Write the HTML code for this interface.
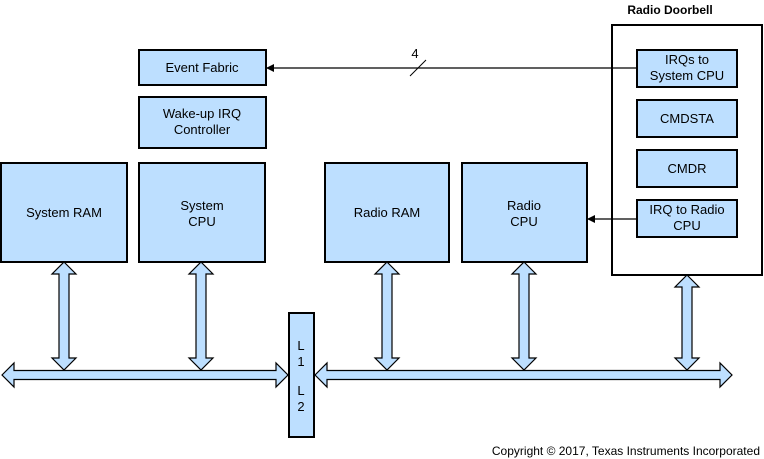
<!DOCTYPE html>
<html><head><style>
html,body{margin:0;padding:0;background:#fff;}
svg{display:block;font-family:"Liberation Sans",Arial,sans-serif;}
</style></head><body>
<svg width="764" height="459" viewBox="0 0 764 459" xmlns="http://www.w3.org/2000/svg">
<defs>
<marker id="ah" markerWidth="8" markerHeight="8" refX="7" refY="4" orient="auto" markerUnits="userSpaceOnUse">
<path d="M0,0 L8,4 L0,8 z" fill="#000"/></marker>
</defs>
<g fill="#bddfff" stroke="#000" stroke-width="2">
<rect x="1" y="163" width="126" height="99"/>
<rect x="139" y="163" width="126" height="99"/>
<rect x="325" y="163" width="124" height="99"/>
<rect x="462" y="163" width="125" height="99"/>
<rect x="139" y="50" width="127" height="35"/>
<rect x="139" y="97" width="127" height="51"/>
<rect x="289" y="313" width="25" height="124"/>
</g>
<rect x="612" y="25" width="150" height="250" fill="#fff" stroke="#000" stroke-width="2"/>
<g fill="#bddfff" stroke="#000" stroke-width="2">
<rect x="637" y="50" width="100" height="37"/>
<rect x="637" y="100" width="100" height="37"/>
<rect x="637" y="150" width="100" height="37"/>
<rect x="637" y="200" width="100" height="37"/>
</g>
<line x1="637" y1="68" x2="267" y2="68" stroke="#000" stroke-width="1.3" marker-end="url(#ah)"/>
<line x1="410" y1="76" x2="426" y2="60" stroke="#000" stroke-width="1"/>
<line x1="637" y1="219" x2="588" y2="219" stroke="#000" stroke-width="1.3" marker-end="url(#ah)"/>
<g fill="#bddfff" stroke="#000" stroke-width="1.2">
<polygon points="64,262 76,274 69,274 69,358 76,358 64,370 52,358 59,358 59,274 52,274"/>
<polygon points="201,262 213,274 206,274 206,358 213,358 201,370 189,358 196,358 196,274 189,274"/>
<polygon points="387,262 399,274 392,274 392,358 399,358 387,370 375,358 382,358 382,274 375,274"/>
<polygon points="524,262 536,274 529,274 529,358 536,358 524,370 512,358 519,358 519,274 512,274"/>
<polygon points="687,275 699,287 692,287 692,358 699,358 687,370 675,358 682,358 682,287 675,287"/>
<polygon points="2,375 14,363 14,370.5 276,370.5 276,363 288,375 276,387 276,379.5 14,379.5 14,387"/>
<polygon points="315,375 327,363 327,370.5 720,370.5 720,363 732,375 720,387 720,379.5 327,379.5 327,387"/>
</g>
<g font-size="13" text-anchor="middle" fill="#000">
<text x="64" y="217">System RAM</text>
<text x="202" y="210">System</text><text x="202" y="226">CPU</text>
<text x="387" y="217">Radio RAM</text>
<text x="524" y="210">Radio</text><text x="524" y="226">CPU</text>
<text x="202" y="72">Event Fabric</text>
<text x="202" y="118">Wake-up IRQ</text><text x="202" y="134">Controller</text>
<text x="687" y="64">IRQs to</text><text x="687" y="80">System CPU</text>
<text x="687" y="123">CMDSTA</text>
<text x="687" y="173">CMDR</text>
<text x="687" y="214">IRQ to Radio</text><text x="687" y="230">CPU</text>
<text x="301" y="350">L</text><text x="301" y="366">1</text>
<text x="301" y="395">L</text><text x="301" y="411">2</text>
<text x="415" y="58">4</text>
<text x="670" y="14" font-weight="bold" font-size="12">Radio Doorbell</text>
</g>
<text x="760" y="455" font-size="12" text-anchor="end" fill="#000">Copyright © 2017, Texas Instruments Incorporated</text>
</svg>
</body></html>
